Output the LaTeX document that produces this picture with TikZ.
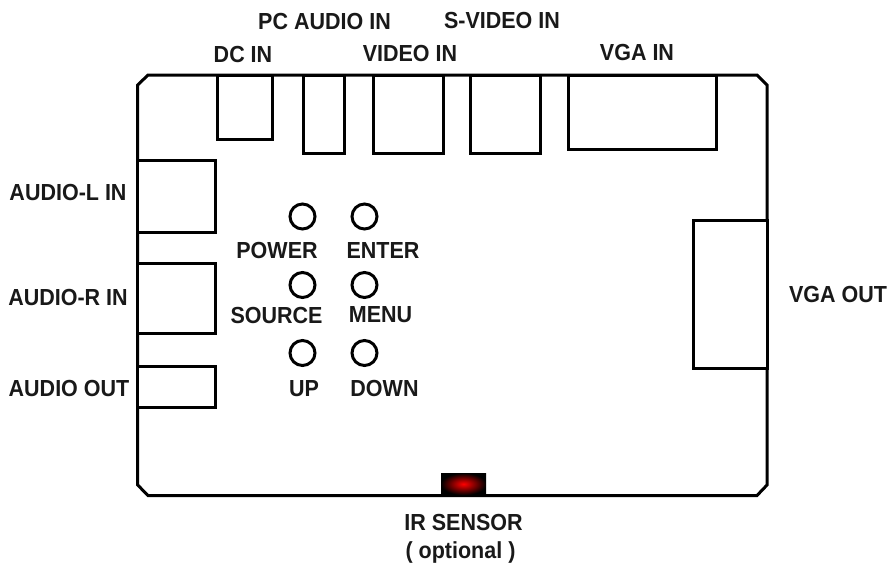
\documentclass[tikz,border=0pt]{standalone}
\usepackage{fontspec}
\setmainfont{Liberation Sans}
\tikzset{
 x=1pt,y=-1pt,
 lbl/.style={font=\bfseries\fontsize{21.5}{23}\selectfont,inner sep=0pt,text=black!90,yscale=1.08},
 box/.style={draw=black,line width=3pt,fill=white},
 btn/.style={draw=black,line width=3pt,circle,minimum size=25pt,inner sep=0pt,fill=white}
}
\begin{document}
\begin{tikzpicture}
\useasboundingbox (0,0) rectangle (889,563);
\fill[white] (0,0) rectangle (889,563);
\draw[line width=3pt,line join=miter] (148,75) -- (757,75) -- (767,85) -- (767,485) -- (757,495.5) -- (148,495.5) -- (137.7,485) -- (137.7,85) -- cycle;
\foreach \a/\b/\c/\d in {217.5/75/272/139,303/75/344/153,373/75/443/153,470/75/540/153,568/75/716/149,137.7/160/215.5/232,137.7/263/215.5/333,137.7/366/215.5/407.5,693/220.5/767/368}{
 \draw[box] (\a,\b) rectangle (\c,\d);
}
\node[btn] (b1) at (302.5,216.5) {};
\node[btn] (b2) at (364.5,216.5) {};
\node[btn] (b3) at (302.5,285) {};
\node[btn] (b4) at (364.5,285) {};
\node[btn] (b5) at (302.5,353) {};
\node[btn] (b6) at (364.5,353) {};
\shade[inner color=red,outer color=black] (441,473) rectangle (486,495);
\node[lbl] (t1) at (324.5,21.5) {PC AUDIO IN};
\node[lbl] (t2) at (502,21) {S-VIDEO IN};
\node[lbl] (t3) at (243,55) {DC IN};
\node[lbl] (t4) at (410,53.5) {VIDEO IN};
\node[lbl] (t5) at (637,52.5) {VGA IN};
\node[lbl] (t6) at (68,192.7) {AUDIO-L IN};
\node[lbl] (t7) at (68,297) {AUDIO-R IN};
\node[lbl] (t8) at (69,388) {AUDIO OUT};
\node[lbl] (t9) at (838,295) {VGA OUT};
\node[lbl] (p) at (277,250.5) {POWER};
\node[lbl] (e) at (383,250.5) {ENTER};
\node[lbl] (s) at (276.5,315) {SOURCE};
\node[lbl] (m) at (380.5,315) {MENU};
\node[lbl] (u) at (304,388.5) {UP};
\node[lbl] (d) at (384.5,388.5) {DOWN};
\node[lbl] (ir) at (463.5,522) {IR SENSOR};
\node[lbl] (o) at (460.5,552) {( optional )};
\end{tikzpicture}
\end{document}
